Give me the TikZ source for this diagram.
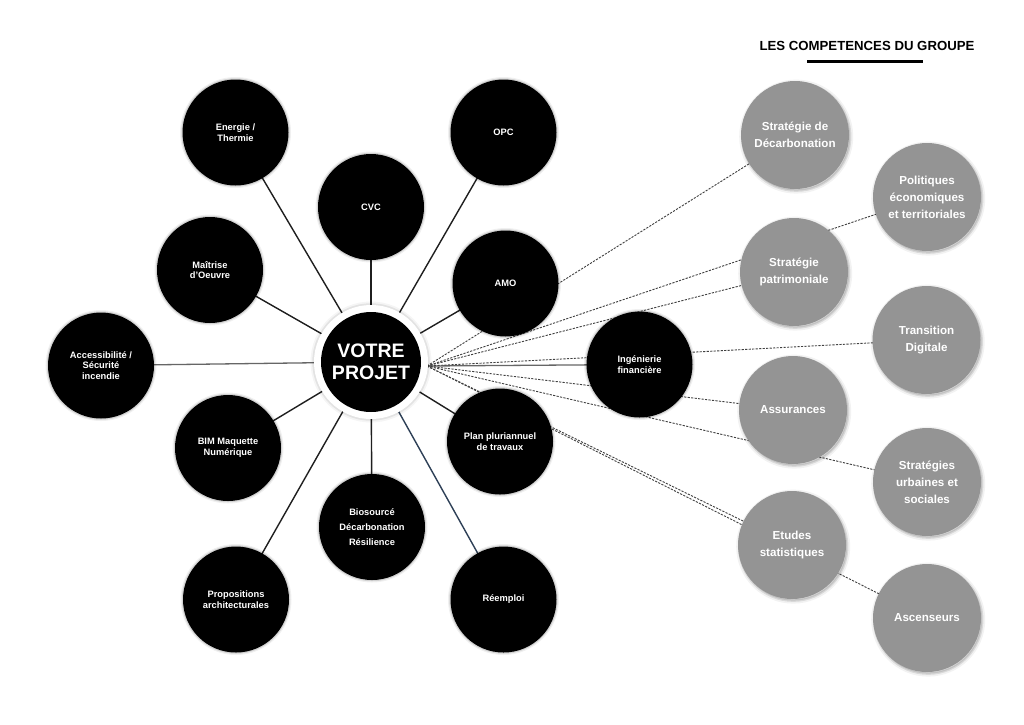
\documentclass[tikz,border=0pt]{standalone}
\usepackage{fontspec}
\setmainfont{Liberation Sans}
\usetikzlibrary{backgrounds}
\definecolor{greyc}{HTML}{949494}
\definecolor{slateln}{HTML}{2E4057}
\begin{document}
\begin{tikzpicture}[x=1pt,y=-1pt,
  blk/.style={circle, fill=black, minimum size=106pt, inner sep=0pt, text=white, align=center,
    font=\bfseries\fontsize{9.3}{10.8}\selectfont,
    preaction={draw=black, opacity=0.06, line width=5pt},
    preaction={draw=black, opacity=0.12, line width=2.5pt}},
  gry/.style={circle, fill=greyc, minimum size=108pt, inner sep=0pt, text=white, align=center,
    font=\bfseries\fontsize{11.6}{17}\selectfont,
    preaction={transform canvas={shift={(1.2pt,-1.6pt)}}, draw=black, opacity=0.05, line width=6pt},
    preaction={transform canvas={shift={(1.2pt,-1.6pt)}}, fill=black, draw=black, opacity=0.10, line width=2.5pt}},
  solidln/.style={draw=black!88, line width=1.4pt},
  greyln/.style={draw=black!60, line width=1.3pt},
  dashln/.style={draw=black!75, line width=0.9pt, dash pattern=on 2.2pt off 1.3pt}
]
\useasboundingbox (0,0) rectangle (1024,724);

% title
\node[font=\bfseries\fontsize{13.2}{15}\selectfont, inner sep=0pt] (title) at (867,46) {LES COMPETENCES DU GROUPE};
\coordinate (ulA) at (807,61);
\coordinate (ulB) at (923,61);
\draw[line width=3pt] (ulA) -- (ulB);

% centre
\node[circle, fill=white, minimum size=114pt, inner sep=0pt,
  preaction={draw=black, opacity=0.04, line width=7pt},
  preaction={draw=black, opacity=0.07, line width=3.5pt}] (ring) at (371,362) {};
\node[circle, fill=black, minimum size=100pt, inner sep=0pt, text=white, align=center,
  font=\bfseries\fontsize{19.5}{22.5}\selectfont] (votre) at (371,362) {VOTRE\\PROJET};
\coordinate (hub) at (427,366);

% black circles
\node[blk] (energie) at (235.5,132.5) {Energie /\\Thermie};
\node[blk] (cvc) at (371,207) {CVC};
\node[blk] (opc) at (503.5,132.5) {OPC};
\node[blk] (moe) at (210,270) {Maîtrise\\d’Oeuvre};
\node[blk] (amo) at (505.5,283.5) {AMO};
\node[blk] (access) at (101,365.5) {Accessibilité /\\Sécurité\\incendie};
\node[blk] (ingfin) at (639.5,364.5) {Ingénierie\\financière};
\node[blk] (bim) at (228,448) {BIM Maquette\\Numérique};
\node[blk] (ppt) at (500,441.5) {Plan pluriannuel\\de travaux};
\node[blk, font=\bfseries\fontsize{9.3}{15}\selectfont] (bio) at (372,527) {Biosourcé\\Décarbonation\\Résilience};
\node[blk] (prop) at (236,599.5) {Propositions\\architecturales};
\node[blk] (reemploi) at (503.5,599.5) {Réemploi};

% grey circles
\node[gry] (sdec) at (795,135) {Stratégie de\\Décarbonation};
\node[gry] (pol) at (927,197) {Politiques\\économiques\\et territoriales};
\node[gry] (spat) at (794,272) {Stratégie\\patrimoniale};
\node[gry] (tdig) at (926.5,340) {Transition\\Digitale};
\node[gry] (ass) at (793,410) {Assurances};
\node[gry] (surb) at (927,482) {Stratégies\\urbaines et\\sociales};
\node[gry] (etu) at (792,545) {Etudes\\statistiques};
\node[gry] (asc) at (927,618) {Ascenseurs};

% connectors
\begin{scope}[on background layer]
\fill[white] (0,0) rectangle (1024,724);
\draw[solidln] (votre.center) -- (energie.center);
\draw[solidln] (votre.center) -- (cvc.center);
\draw[solidln] (votre.center) -- (opc.center);
\draw[solidln] (votre.center) -- (moe.center);
\draw[solidln] (votre.center) -- (amo.center);
\draw[greyln] (votre.center) -- (access.center);
\draw[solidln] (votre.center) -- (bim.center);
\draw[solidln] (votre.center) -- (ppt.center);
\draw[solidln] (votre.center) -- (bio.center);
\draw[solidln] (votre.center) -- (prop.center);
\draw[draw=slateln, line width=1.4pt] (votre.center) -- (reemploi.center);
\draw[greyln] (hub) -- (ingfin.center);
\draw[dashln] (hub) -- (sdec.center);
\draw[dashln] (hub) -- (pol.center);
\draw[dashln] (hub) -- (spat.center);
\draw[dashln] (hub) -- (tdig.center);
\draw[dashln] (hub) -- (ass.center);
\draw[dashln] (hub) -- (surb.center);
\draw[dashln] (hub) -- (etu.center);
\draw[dashln] (hub) -- (asc.center);
\end{scope}
\end{tikzpicture}
\end{document}
